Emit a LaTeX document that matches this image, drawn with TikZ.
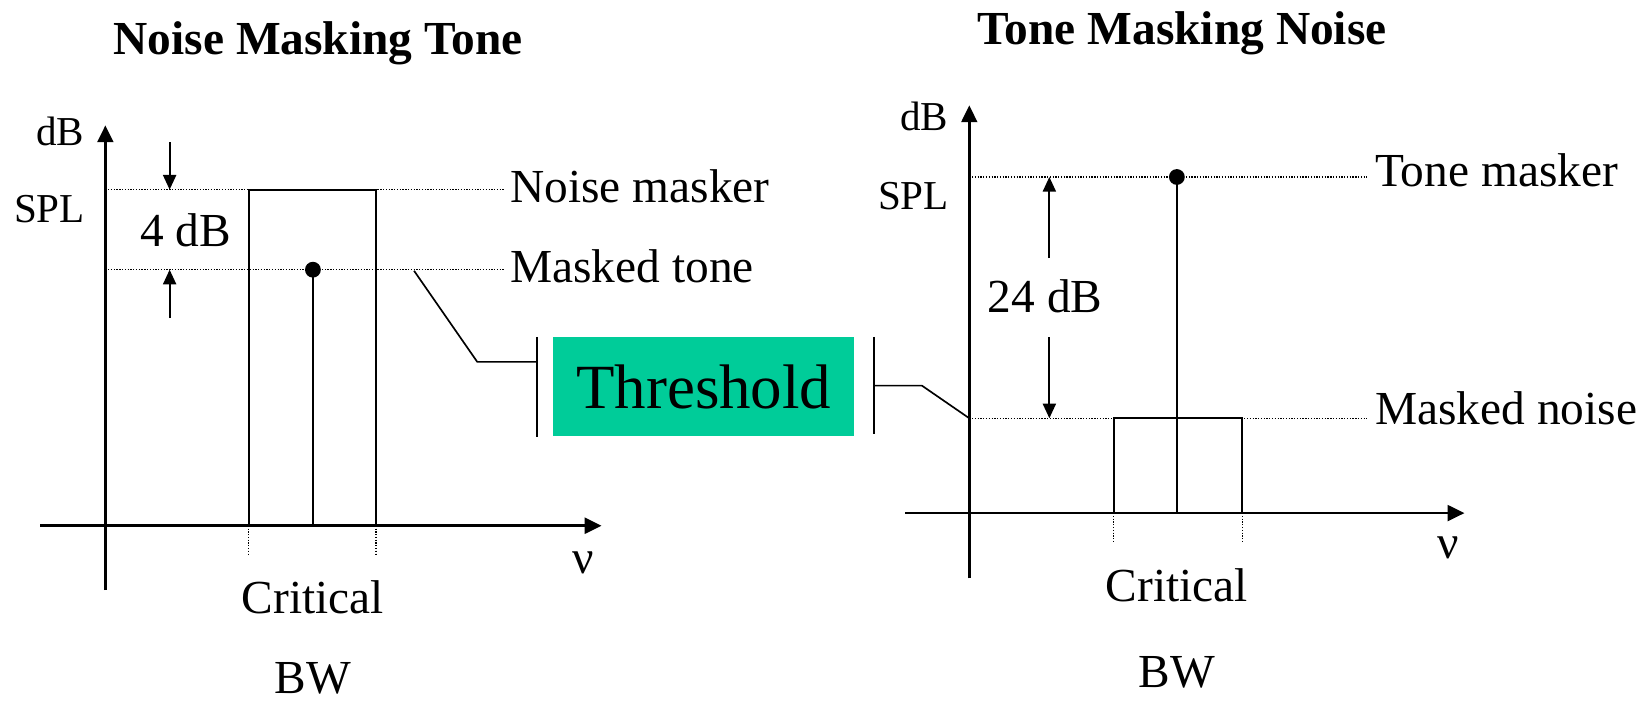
\documentclass[tikz,border=0pt]{standalone}
\usepackage{fontspec}
\setmainfont{Liberation Serif}
\usetikzlibrary{arrows.meta,positioning}
\definecolor{thrgreen}{RGB}{0,204,153}

\begin{document}
\begin{tikzpicture}[x=0.02cm,y=-0.02cm,
  every node/.style={font=\fontsize{25.6}{30}\selectfont,inner sep=0pt},
  heading/.style={font=\fontsize{25.6}{30}\selectfont\bfseries,anchor=base},
  axtext/.style={font=\fontsize{22.2}{26}\selectfont,anchor=base},
  bandtext/.style={anchor=base},
  sidetext/.style={anchor=base west},
  axis/.style={-{Triangle[length=0.32cm,width=0.3cm]},line width=1.4pt},
  levelline/.style={line width=0.7pt,dash pattern=on 0.7pt off 0.8pt},
  bandline/.style={line width=1.2pt},
  gap/.style={-{Triangle[length=0.28cm,width=0.25cm]},line width=1pt},
  link/.style={line width=0.9pt},
  tonedot/.style={circle,fill,minimum size=0.3cm},
  thrbox/.style={fill=thrgreen,minimum width=5.72cm,minimum height=1.88cm,
    font=\fontsize{34}{40}\selectfont}]
  \useasboundingbox (0,0) rectangle (1568,665);

  % titles
  \node[heading] (nmt) at (302,52) {Noise Masking Tone};
  \node[heading] (tmn) at (1122,42) {Tone Masking Noise};

  % left: noise masking tone
  \draw[axis] (100,560) -- (100,119);
  \draw[axis] (38,499) -- (571,499);
  \node[axtext] (ldb) at (57,138) {dB};
  \node[axtext] (lspl) at (47,211) {SPL};
  \node[bandtext] (lnu) at (554,544) {ν};
  \draw[levelline] (100,180) -- (478,180);
  \draw[levelline] (100,256) -- (478,256);
  \draw[bandline] (236,499) |- (357,180) -- (357,499);
  \node[tonedot] (ltone) at (297,256) {};
  \draw[bandline] (297,499) -- (ltone.center);
  \draw[levelline] (236,499) -- (236,527);
  \draw[levelline] (357,499) -- (357,527);
  \draw[gap] (161,135) -- (161,180);
  \draw[gap] (161,302) -- (161,256);
  \node[bandtext] (fourdb) at (176,234) {4 dB};
  \node[sidetext] (nmask) at (484,192) {Noise masker};
  \node[sidetext] (mtone) at (484,268) {Masked tone};
  \node[bandtext] (lcrit) at (297,582) {Critical};
  \node[bandtext] (lbw) at (297,658) {BW};

  % threshold box and its links
  \node[thrbox] (thr) at (668,367) {Threshold};
  \coordinate (lbar) at ([xshift=-0.3cm]thr.west);
  \coordinate (rbar) at ([xshift=0.36cm]thr.east);
  \draw[link] ([xshift=-0.3cm]thr.north west) -- ([xshift=-0.3cm]thr.south west);
  \draw[link] ([xshift=0.36cm]thr.north east) -- ([xshift=0.36cm,yshift=0.04cm]thr.south east);
  \coordinate (tonetap) at (393,257);
  \coordinate (noisetap) at (920,397);
  \draw[link] (tonetap) -- (453,343.5) -- (lbar |- 0,343.5);
  \draw[link] (rbar |- 0,366) -- (875,366) -- (noisetap);

  % right: tone masking noise
  \draw[axis] (920,549) -- (920,100);
  \draw[axis] (859,487) -- (1390,487);
  \node[axtext] (rdb) at (877,124) {dB};
  \node[axtext] (rspl) at (867,199) {SPL};
  \node[bandtext] (rnu) at (1375,530) {ν};
  \draw[levelline] (920,168) -- (1297,168);
  \draw[levelline] (noisetap) -- (1297,397);
  \draw[bandline] (1057,487) |- (1179,397) -- (1179,487);
  \node[tonedot] (rtone) at (1117,168) {};
  \draw[bandline] (1117,487) -- (rtone.center);
  \draw[levelline] (1057,487) -- (1057,515);
  \draw[levelline] (1179,487) -- (1179,515);
  \draw[gap] (996,245) -- (996,168);
  \draw[gap] (996,320) -- (996,397);
  \node[bandtext] (tfdb) at (992,297) {24 dB};
  \node[sidetext] (tmask) at (1305,177) {Tone masker};
  \node[sidetext] (mnoise) at (1305,403) {Masked noise};
  \node[bandtext] (rcrit) at (1117,571) {Critical};
  \node[bandtext] (rbw) at (1117,653) {BW};
\end{tikzpicture}
\end{document}
